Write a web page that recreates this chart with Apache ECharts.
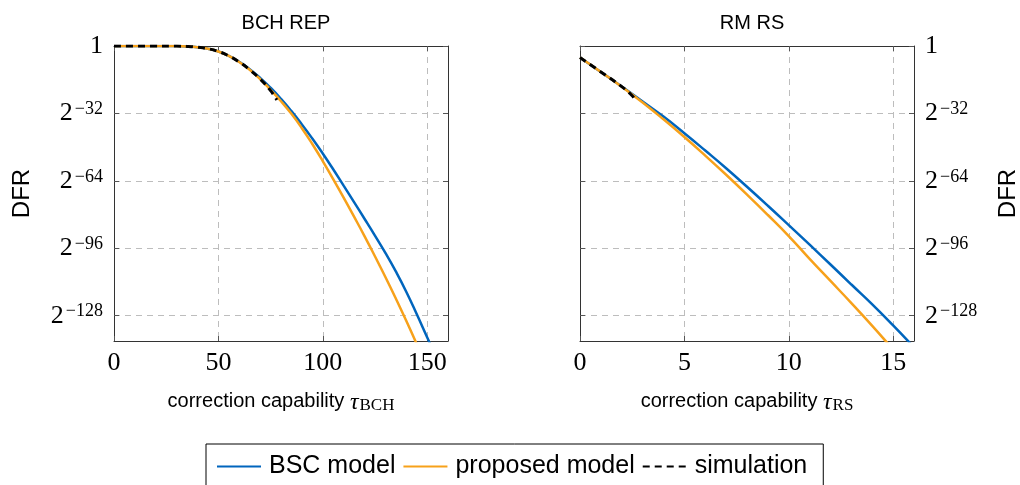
<!DOCTYPE html>
<html>
<head>
<meta charset="utf-8">
<script src="https://cdn.jsdelivr.net/npm/echarts@6/dist/echarts.min.js"></script>
<style>
  html, body { margin: 0; padding: 0; background: #fff; }
</style>
</head>
<body>
<div id="main" style="width: 1020px; height: 485px;"></div>
<script>
// DFR given as log2 exponent (value -32 means 2^-32)
const bchX = [0, 10, 20, 30, 35, 40, 45, 50, 55, 60, 65, 70, 75, 80, 85, 90, 95, 100, 105, 110, 115, 120, 125, 130, 135, 140, 145, 150, 152];
const bchBsc = [0, 0, 0, -0.05, -0.2, -0.6, -1.3, -2.6, -4.7, -7.5, -11.0, -15.1, -19.8, -25.1, -30.9, -37.2, -43.9, -51.0, -58.5, -66.3, -74.1, -82.0, -90.0, -98.2, -107.0, -116.6, -127.2, -138.2, -142.6];
const bchPropX = [0, 10, 20, 30, 35, 40, 45, 50, 55, 60, 65, 70, 75, 80, 85, 90, 95, 100, 105, 110, 115, 120, 125, 130, 135, 140, 145];
const bchProp = [0, 0, 0, -0.05, -0.2, -0.6, -1.3, -2.6, -4.7, -7.6, -11.3, -15.7, -20.8, -26.2, -32.2, -39.0, -46.5, -54.6, -63.2, -72.0, -81.0, -90.2, -99.8, -109.6, -119.8, -130.4, -141.4];
const bchSimX = [0, 10, 20, 30, 35, 40, 45, 50, 55, 60, 65, 70, 75, 78];
const bchSim = [0, 0, 0, -0.05, -0.2, -0.6, -1.3, -2.6, -4.7, -7.6, -11.3, -15.7, -21.2, -25.6];

const rsX = [0, 1, 2, 3, 4, 5, 6, 7, 8, 9, 10, 11, 12, 13, 14, 15, 16];
const rsBsc = [-5.5, -12.3, -19.2, -26.3, -33.5, -41.4, -49.6, -58, -66.8, -75.8, -85, -94.3, -103.7, -113.2, -122.6, -132.6, -143];
const rsProp = [-5.5, -12.3, -19.3, -26.8, -34.8, -43.2, -52, -61.1, -70.5, -80.2, -90.2, -101, -111.5, -122, -132.8, -144, -155];
const rsSimX = [0, 1, 2, 2.5, 2.7];
const rsSim = [-5.5, -12.3, -19.3, -23.6, -26.4];

const yTicks = [0, -32, -64, -96, -128];
const bchTicks = [0, 50, 100, 150];
const rsTicks = [0, 5, 10, 15];

const BLUE = '#0065BD';
const ORANGE = '#F7A11A';
const serif = 'Liberation Serif';
const sans = 'Liberation Sans';

function pairs(xs, ys) {
  return xs.map((x, i) => [x, ys[i]]);
}

function yLabel(v) {
  if (v === 0) return '{b|1}';
  return '{b|2}{s|\u2212' + Math.abs(v) + '}';
}

const yRich = {
  b: { fontFamily: serif, fontSize: 26, lineHeight: 26, verticalAlign: 'bottom', color: '#000' },
  s: { fontFamily: serif, fontSize: 18, lineHeight: 18, verticalAlign: 'top', padding: [0, 0, 10, 2], color: '#000' }
};

function xName(sub) {
  return '{t|correction capability }{g|\u03c4}{s|' + sub + '}';
}
const xNameRich = {
  t: { fontFamily: sans, fontSize: 20, lineHeight: 23, verticalAlign: 'top', color: '#000' },
  g: { fontFamily: serif, fontStyle: 'italic', fontSize: 24, lineHeight: 23, verticalAlign: 'top', color: '#000' },
  s: { fontFamily: serif, fontSize: 17, lineHeight: 17, verticalAlign: 'bottom', padding: [9, 0, 0, 1], color: '#000' }
};

const gridLine = { show: true, lineStyle: { color: '#bdbdbd', type: [6, 5], width: 1 } };
const tick = (vals) => ({ show: true, inside: true, length: 5, customValues: vals, lineStyle: { color: '#555' } });
const line = { show: true, onZero: false, lineStyle: { color: '#333', width: 1 } };

function mainX(gi, max, vals, sub) {
  return {
    type: 'value', gridIndex: gi, min: 0, max: max, position: 'bottom',
    axisLine: line, axisTick: tick(vals), splitLine: gridLine,
    axisLabel: { customValues: vals, fontFamily: serif, fontSize: 26, color: '#000', margin: 9 },
    name: xName(sub), nameLocation: 'middle', nameGap: 50,
    nameTextStyle: { rich: xNameRich }
  };
}
function mirrorX(gi, max, vals) {
  return {
    type: 'value', gridIndex: gi, min: 0, max: max, position: 'top',
    axisLine: line, axisTick: tick(vals), splitLine: { show: false }, axisLabel: { show: false }
  };
}
function mainY(gi, pos, gap) {
  return {
    type: 'value', gridIndex: gi, min: -140, max: 0, position: pos,
    axisLine: line, axisTick: tick(yTicks), splitLine: gridLine,
    axisLabel: { customValues: yTicks, formatter: yLabel, rich: yRich, margin: 11 },
    name: 'DFR', nameLocation: 'middle', nameGap: gap, nameRotate: 90,
    nameTextStyle: { fontFamily: sans, fontSize: 24, color: '#000' }
  };
}
function mirrorY(gi, pos) {
  return {
    type: 'value', gridIndex: gi, min: -140, max: 0, position: pos,
    axisLine: line, axisTick: tick(yTicks), splitLine: { show: false }, axisLabel: { show: false }
  };
}

function curve(name, xi, yi, data, color, dashed) {
  return {
    name: name, type: 'line', xAxisIndex: xi, yAxisIndex: yi,
    data: data, symbol: 'none', smooth: 0.5, z: dashed ? 5 : 3,
    lineStyle: { color: color, width: dashed ? 3 : 2.5, type: dashed ? [7, 5] : 'solid' },
    itemStyle: { color: color }
  };
}

const myChart = echarts.init(document.getElementById('main'), null, { renderer: 'canvas' });
const option = {
  backgroundColor: '#fff',
  animation: false,
  title: [
    { text: 'BCH REP', left: 281, top: 8, textAlign: 'center', textStyle: { fontFamily: sans, fontSize: 20, fontWeight: 'normal', color: '#000' } },
    { text: 'RM RS', left: 747, top: 8, textAlign: 'center', textStyle: { fontFamily: sans, fontSize: 20, fontWeight: 'normal', color: '#000' } }
  ],
  grid: [
    { left: 114, top: 46, width: 334, height: 295, outerBoundsMode: 'none', containLabel: false },
    { left: 580, top: 46, width: 334, height: 295, outerBoundsMode: 'none', containLabel: false }
  ],
  xAxis: [
    mainX(0, 160, bchTicks, 'BCH'),
    mainX(1, 16, rsTicks, 'RS'),
    mirrorX(0, 160, bchTicks),
    mirrorX(1, 16, rsTicks)
  ],
  yAxis: [
    mainY(0, 'left', 80),
    mainY(1, 'right', 82),
    mirrorY(0, 'right'),
    mirrorY(1, 'left')
  ],
  legend: {
    data: ['BSC model', 'proposed model', 'simulation'],
    left: 206, top: 444,
    itemWidth: 44, itemHeight: 16, itemGap: 7,
    padding: [10, 16, 12, 10],
    borderColor: '#000', borderWidth: 1, borderRadius: 0,
    itemStyle: { opacity: 0 },
    textStyle: { fontFamily: sans, fontSize: 25, color: '#000', padding: [0, 0, 0, 3] }
  },
  series: [
    curve('BSC model', 0, 0, pairs(bchX, bchBsc), BLUE, false),
    curve('proposed model', 0, 0, pairs(bchPropX, bchProp), ORANGE, false),
    curve('simulation', 0, 0, pairs(bchSimX, bchSim), '#000', true),
    curve('BSC model', 1, 1, pairs(rsX, rsBsc), BLUE, false),
    curve('proposed model', 1, 1, pairs(rsX, rsProp), ORANGE, false),
    curve('simulation', 1, 1, pairs(rsSimX, rsSim), '#000', true)
  ]
};
myChart.setOption(option);
</script>
</body>
</html>
